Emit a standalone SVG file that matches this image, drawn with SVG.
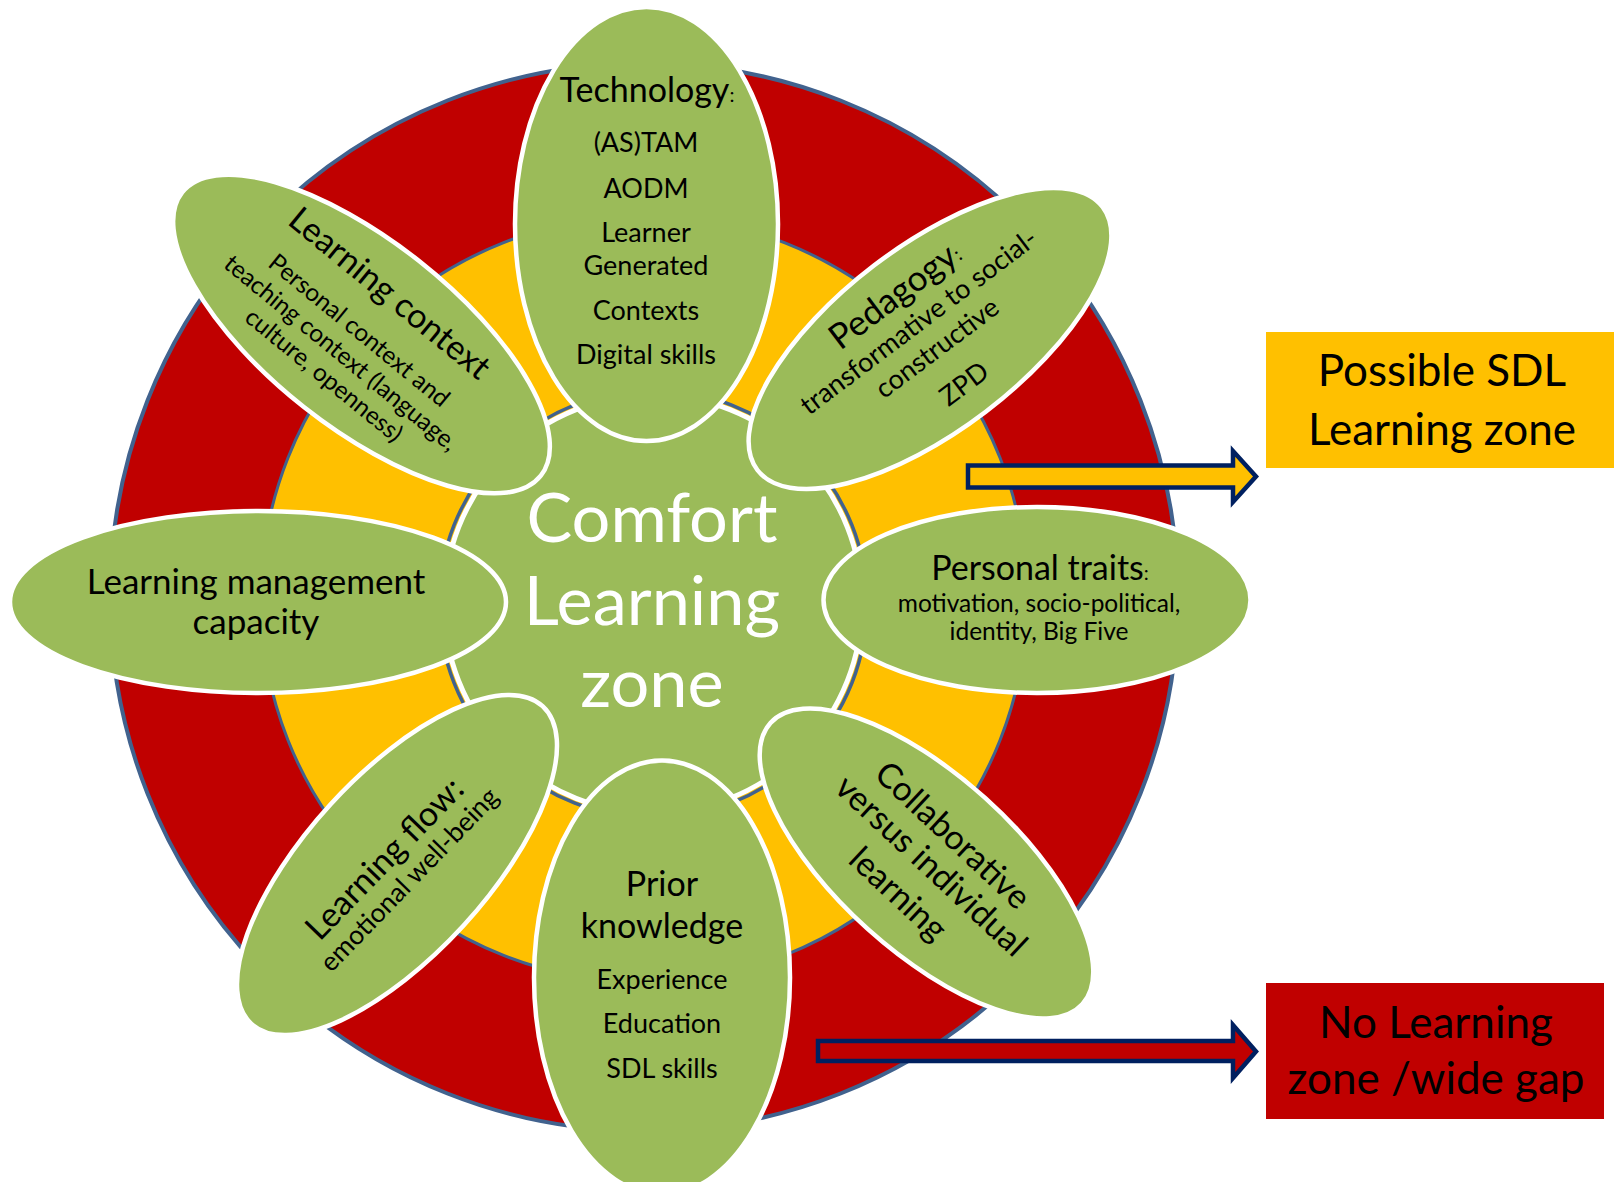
<svg xmlns="http://www.w3.org/2000/svg" width="1614" height="1182" viewBox="0 0 1614 1182">
  <style>
    .petal { fill: #9BBB59; stroke: #FFFFFF; stroke-width: 4.5; }
    text { font-family: Lato, "Liberation Sans", sans-serif; fill: #000000; text-anchor: middle; }
    .h { font-size: 34px; }
    .s { font-size: 27px; }
    .xs { font-size: 24.5px; }
    .colon { font-size: 20px; }
    .big { font-size: 68.5px; fill: #FFFFFF; }
    .box { font-size: 44px; }
    .arrow { stroke: #002060; stroke-width: 4.5; stroke-linejoin: miter; }
  </style>
  <rect width="1614" height="1182" fill="#FFFFFF"/>

  <!-- concentric zones -->
  <g id="zones">
    <circle cx="644" cy="597" r="534" fill="#C00000" stroke="#41628E" stroke-width="4"/>
    <circle cx="644" cy="599" r="383" fill="#FFC000" stroke="#41628E" stroke-width="3"/>
    <circle cx="653" cy="604" r="214" fill="none" stroke="#41628E" stroke-width="3.5"/>
  </g>

  <g id="comfort">
    <circle cx="653" cy="604" r="209" fill="#9BBB59" stroke="#FFFFFF" stroke-width="5"/>
    <text class="big" x="652" y="542">Comfort</text>
    <text class="big" x="652" y="625">Learning</text>
    <text class="big" x="652" y="707">zone</text>
  </g>

  <!-- connectors -->
  <g id="connectors">
    <path class="arrow" fill="#FFC000" d="M968,465.5 H1233 V451 L1256,476.5 L1233,502 V487.5 H968 Z"/>
    <path class="arrow" fill="#C00000" d="M818,1041 H1233 V1025 L1256,1051.5 L1233,1078 V1061 H818 Z"/>
  </g>

  <g id="technology">
    <ellipse class="petal" cx="646.5" cy="224" rx="131.5" ry="217"/>
    <text x="647" y="102"><tspan class="h">Technology</tspan><tspan class="colon">:</tspan></text>
    <text class="s" x="646" y="152">(AS)TAM</text>
    <text class="s" x="646" y="198">AODM</text>
    <text class="s" x="646" y="242">Learner</text>
    <text class="s" x="646" y="275">Generated</text>
    <text class="s" x="646" y="320">Contexts</text>
    <text class="s" x="646" y="364">Digital skills</text>
  </g>

  <g id="pedagogy" transform="translate(930 338.5)">
    <ellipse class="petal" cx="0" cy="0" rx="217" ry="92" transform="rotate(-37.3)"/>
    <g transform="rotate(-37)">
      <text x="-2" y="-44"><tspan class="h" style="font-size:35px">Pedagogy</tspan><tspan class="colon">:</tspan></text>
      <text class="s" x="1" y="-11">transformative to social-</text>
      <text class="s" x="0" y="21">constructive</text>
      <text class="s" x="0" y="66">ZPD</text>
    </g>
  </g>

  <g id="personal-traits">
    <ellipse class="petal" cx="1037" cy="600" rx="213.5" ry="93"/>
    <text x="1040" y="579.5"><tspan class="h">Personal traits</tspan><tspan class="colon">:</tspan></text>
    <text class="xs" x="1039" y="612">motivation, socio-political,</text>
    <text class="xs" x="1039" y="640">identity, Big Five</text>
  </g>

  <g id="collaborative" transform="translate(926.5 863.5)">
    <ellipse class="petal" cx="0" cy="0" rx="210" ry="88" transform="rotate(42)"/>
    <g transform="rotate(43)">
      <text class="h" x="0" y="-27">Collaborative</text>
      <text class="h" x="5" y="10">versus individual</text>
      <text class="h" x="0" y="53">learning</text>
    </g>
  </g>

  <g id="prior-knowledge">
    <ellipse class="petal" cx="662" cy="977.5" rx="128" ry="217"/>
    <text class="h" x="662" y="896">Prior</text>
    <text class="h" x="662" y="938">knowledge</text>
    <text class="s" x="662" y="988.5">Experience</text>
    <text class="s" x="662" y="1033">Education</text>
    <text class="s" x="662" y="1078">SDL skills</text>
  </g>

  <g id="learning-flow" transform="translate(397 865)">
    <ellipse class="petal" cx="0" cy="0" rx="215.5" ry="90" transform="rotate(-47.5)"/>
    <g transform="rotate(-46)">
      <text class="h" x="-4" y="-2">Learning flow:</text>
      <text x="-2" y="28" style="font-size:26.5px">emotional well-being</text>
    </g>
  </g>

  <g id="learning-management">
    <ellipse class="petal" cx="258" cy="602" rx="248" ry="91"/>
    <text class="h" x="256" y="594" style="font-size:35px">Learning management</text>
    <text class="h" x="256" y="634" style="font-size:35px">capacity</text>
  </g>

  <g id="learning-context" transform="translate(361.5 334)">
    <ellipse class="petal" cx="0" cy="0" rx="228.5" ry="93" transform="rotate(38.3)"/>
    <g transform="rotate(39.3)">
      <text class="h" x="-4" y="-38">Learning context</text>
      <text class="xs" x="-4" y="7">Personal context and</text>
      <text class="xs" x="-4" y="36">teaching context (language,</text>
      <text class="xs" x="-3" y="64">culture, openness)</text>
    </g>
  </g>

  <g id="legend-possible">
    <rect x="1266" y="332" width="348" height="136" fill="#FFC000"/>
    <text class="box" x="1442" y="386">Possible SDL</text>
    <text class="box" x="1442" y="445">Learning zone</text>
  </g>

  <g id="legend-no-learning">
    <rect x="1266" y="983" width="338" height="136" fill="#C00000"/>
    <text class="box" x="1436" y="1038">No Learning</text>
    <text class="box" x="1436" y="1094">zone /wide gap</text>
  </g>
</svg>
